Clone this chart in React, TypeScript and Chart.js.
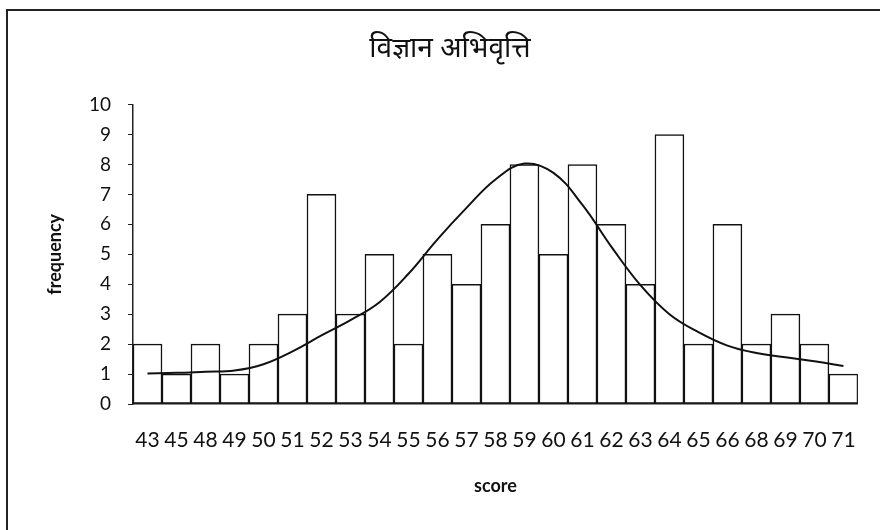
import React, { useEffect, useRef } from "react";
import { Chart, registerables } from "chart.js";

Chart.register(...registerables);

const titleText = "विज्ञान अभिवृत्ति";
const xTitle = "score";
const yTitle = "frequency";

const scores = ["43", "45", "48", "49", "50", "51", "52", "53", "54", "55", "56", "57", "58", "59", "60", "61", "62", "63", "64", "65", "66", "68", "69", "70", "71"];
const frequency = [2, 1, 2, 1, 2, 3, 7, 3, 5, 2, 5, 4, 6, 8, 5, 8, 6, 4, 9, 2, 6, 2, 3, 2, 1];
const normalCurve = [1.02, 1.04, 1.08, 1.12, 1.33, 1.76, 2.29, 2.8, 3.4, 4.35, 5.5, 6.55, 7.5, 8.03, 7.72, 6.65, 5.25, 3.97, 3.0, 2.4, 1.95, 1.7, 1.56, 1.43, 1.27];
const yTicks = [0, 1, 2, 3, 4, 5, 6, 7, 8, 9, 10];

const FONT = "Lato, 'Open Sans', sans-serif";

export default function App() {
  const ref = useRef<HTMLCanvasElement | null>(null);

  useEffect(() => {
    if (!ref.current) return;
    const chart = new Chart(ref.current, {
      type: "bar",
      data: {
        labels: scores,
        datasets: [
          {
            type: "line",
            data: normalCurve,
            borderColor: "#111",
            borderWidth: 2,
            pointRadius: 0,
            fill: false,
            tension: 0.4,
            order: 0,
          } as any,
          {
            type: "bar",
            data: frequency,
            backgroundColor: "#ffffff",
            borderColor: "#111",
            borderWidth: 1.5,
            borderSkipped: false,
            barPercentage: 1,
            categoryPercentage: 1,
            order: 1,
          },
        ],
      },
      options: {
        responsive: false,
        animation: false,
        layout: { padding: { top: 18, left: 40, right: 20, bottom: 0 } },
        plugins: {
          legend: { display: false },
          tooltip: { enabled: false },
          title: {
            display: true,
            text: titleText,
            color: "#111",
            font: { family: "'Noto Sans', 'Lohit Devanagari', FreeSerif, sans-serif", size: 28, weight: "normal" },
            padding: { top: 14, bottom: 39 },
          },
        },
        scales: {
          x: {
            grid: { display: false, drawTicks: false },
            border: { display: true, color: "#222", width: 1.5 },
            ticks: { color: "#111", font: { family: FONT, size: 21 }, padding: 24, maxRotation: 0, autoSkip: false },
            title: { display: true, text: xTitle, color: "#111", font: { family: FONT, size: 18, weight: "bold" }, padding: { top: 0, bottom: 33 } },
            afterFit: (s: any) => { s.height = 126; },
          },
          y: {
            min: 0,
            max: 10,
            afterBuildTicks: (s: any) => { s.ticks = yTicks.map((v) => ({ value: v })); },
            grid: { drawOnChartArea: false, drawTicks: true, tickLength: 5, color: "#222" },
            border: { display: true, color: "#222", width: 1.5 },
            ticks: { color: "#111", font: { family: FONT, size: 19 }, padding: 17 },
            title: { display: true, text: yTitle, color: "#111", font: { family: FONT, size: 18, weight: "bold" }, padding: { top: 4, bottom: 0 } },
            afterFit: (s: any) => { s.width = 93; },
          },
        },
      },
    });
    return () => chart.destroy();
  }, []);

  return (
    <div style={{ position: "fixed", left: 0, top: 0, width: 880, height: 530, background: "#fff", overflow: "hidden" }}>
      <div style={{ position: "absolute", left: 6, top: 9, width: 900, height: 600, borderLeft: "2px solid #222", borderTop: "2px solid #222" }} />
      <canvas ref={ref} width={880} height={530} style={{ position: "absolute", left: 0, top: 0 }} />
    </div>
  );
}
